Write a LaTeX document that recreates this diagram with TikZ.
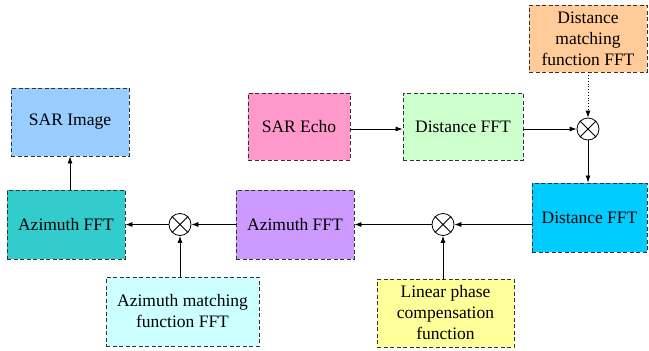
\documentclass[tikz,border=0pt]{standalone}
\usepackage{fontspec}
\setmainfont{Liberation Serif}
\usetikzlibrary{arrows.meta}
\definecolor{cimg}{HTML}{99CCFF}
\definecolor{cteal}{HTML}{33CCCC}
\definecolor{cpurp}{HTML}{CC99FF}
\definecolor{cblue}{HTML}{00CCFF}
\definecolor{cyell}{HTML}{FFFF99}
\definecolor{ccyan}{HTML}{CCFFFF}
\definecolor{cpink}{HTML}{FF99CC}
\definecolor{cgreen}{HTML}{CCFFCC}
\definecolor{corange}{HTML}{FFCC99}
\tikzset{
  blk/.style={draw=black!80, dash pattern=on 4pt off 2.5pt, line width=0.9pt, rectangle, align=center,
    font=\fontsize{17.5}{21}\selectfont, inner sep=1pt},
  mult/.style={draw, circle, minimum size=22pt, inner sep=0pt, line width=0.8pt},
  arr/.style={-{Latex[length=7pt,width=5pt]}, line width=0.8pt},
  darr/.style={-{Latex[length=7pt,width=5pt]}, line width=0.8pt, dotted}
}
\newcommand{\crossin}[1]{\draw[line width=0.8pt] (#1.north west) -- (#1.south east) (#1.north east) -- (#1.south west);}
\begin{document}
\begin{tikzpicture}[x=1pt,y=-1pt]
\useasboundingbox (0,0) rectangle (649,351);
\node[blk, fill=cimg, minimum width=118pt, minimum height=68pt] (img) at (70,122) {SAR Image};
\node[blk, fill=cteal, minimum width=118pt, minimum height=69pt] (az2) at (66,224.5) {Azimuth FFT};
\node[blk, fill=cpurp, minimum width=118pt, minimum height=69pt] (az1) at (295,224.5) {Azimuth FFT};
\node[blk, fill=cblue, minimum width=115pt, minimum height=69pt] (d2) at (589.5,217.5) {Distance FFT};
\node[blk, fill=cyell, minimum width=137pt, minimum height=68pt] (lin) at (445.5,313) {Linear phase\\compensation\\function};
\node[blk, fill=ccyan, minimum width=153pt, minimum height=69pt] (am) at (182.5,311.5) {Azimuth matching\\function FFT};
\node[blk, fill=cpink, minimum width=102pt, minimum height=67pt] (echo) at (299,126.5) {SAR Echo};
\node[blk, fill=cgreen, minimum width=120pt, minimum height=67pt] (d1) at (463,126.5) {Distance FFT};
\node[blk, fill=corange, minimum width=118pt, minimum height=67pt] (dm) at (588,38.5) {Distance\\matching\\function FFT};
\node[mult] (m1) at (588,129) {};
\node[mult] (m2) at (443,224.5) {};
\node[mult] (m3) at (180,224.5) {};
\crossin{m1}\crossin{m2}\crossin{m3}
\draw[arr] (echo.east |- m1) -- (d1.west |- m1);
\draw[arr] (d1.east |- m1) -- (m1.west);
\draw[darr] (dm.south) -- (m1.north);
\draw[arr] (m1.south) -- (m1 |- d2.north);
\draw[arr] (d2.west |- m2) -- (m2.east);
\draw[arr] (m2.west) -- (az1.east |- m2);
\draw[arr] (lin.north -| m2) -- (m2.south);
\draw[arr] (az1.west |- m3) -- (m3.east);
\draw[arr] (m3.west) -- (az2.east |- m3);
\draw[arr] (am.north -| m3) -- (m3.south);
\draw[arr] (az2.north -| img) -- (img.south);
\end{tikzpicture}
\end{document}
